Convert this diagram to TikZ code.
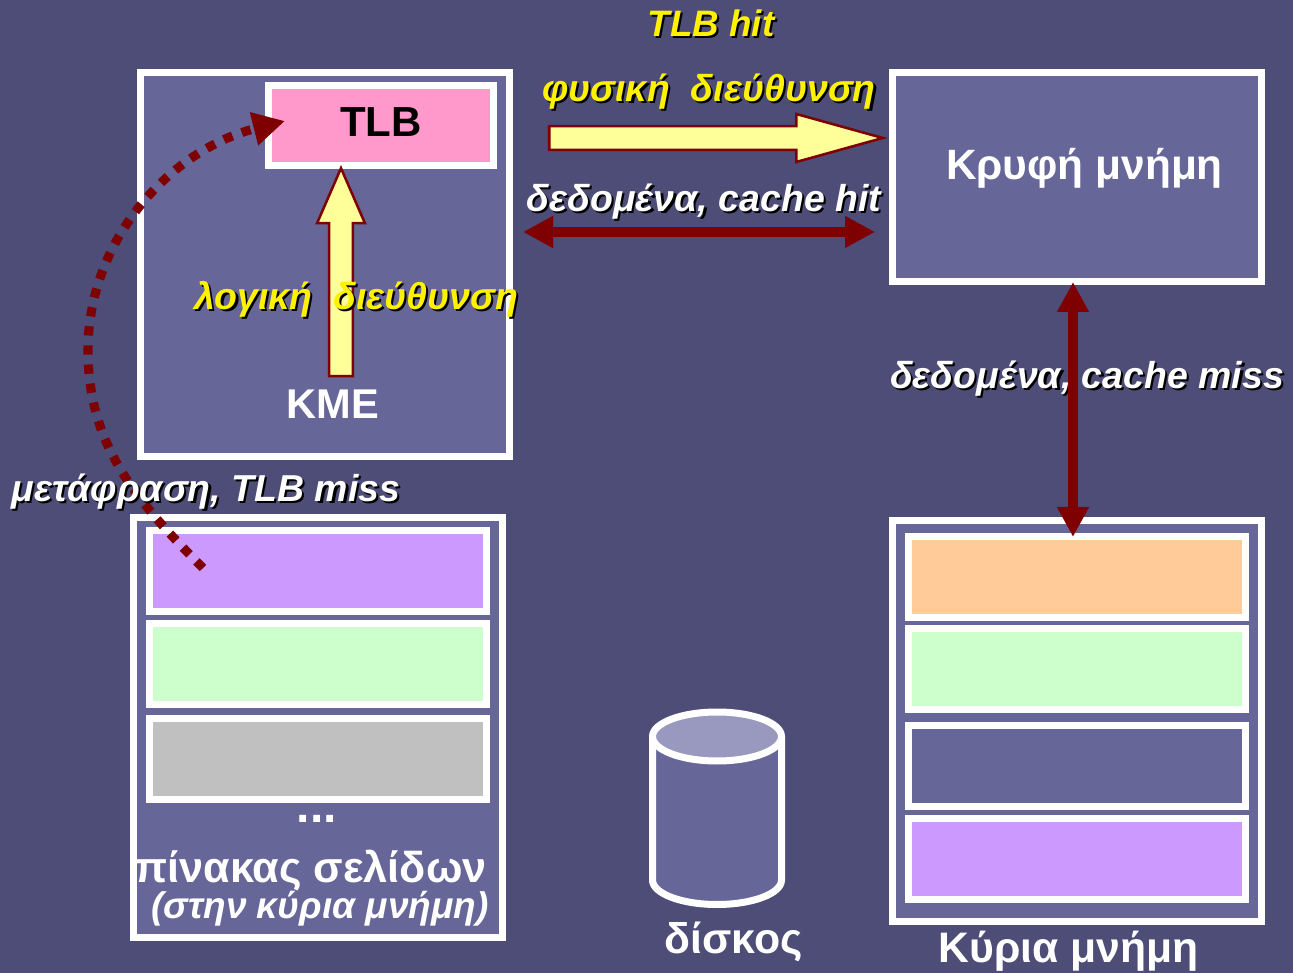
\documentclass[tikz,border=0pt]{standalone}
\usepackage{fontspec}
\setmainfont{Liberation Sans}
\usetikzlibrary{arrows.meta,shapes.arrows}
\definecolor{bgc}{HTML}{4D4D77}
\definecolor{boxc}{HTML}{666699}
\definecolor{darkr}{HTML}{7F0000}
\definecolor{yelc}{HTML}{FFFF99}
\definecolor{topc}{HTML}{9999C0}
\newcommand{\shtext}[1]{\leavevmode\rlap{\kern1.6pt\raisebox{-1.6pt}{\color{black}#1}}#1}
\newcommand{\fsz}[1]{\fontsize{#1pt}{#1pt}\selectfont}
\tikzset{
  x=0.75pt,y=-0.75pt,
  wh/.style 2 args={minimum width=#1*0.75pt,minimum height=#2*0.75pt},
  framebox/.style={draw=white,line width=5.25pt,fill=boxc,inner sep=0pt,outer sep=0pt},
  rowbox/.style={framebox,wh={337}{81}},
  blockarrow/.style={single arrow,draw=darkr,fill=yelc,line width=1.9pt,inner xsep=0pt,inner ysep=8pt,
    minimum width=46*0.75pt,single arrow head extend=12*0.75pt,anchor=tip},
  link/.style={draw=darkr,line width=7.5pt,{Triangle[length=22.5pt,width=22.5pt]}-{Triangle[length=22.5pt,width=22.5pt]}},
  hops/.style={draw=darkr,line width=6.8pt,dash pattern=on 7pt off 7.4pt,-{Triangle[length=24pt,width=24pt]}},
  yellabel/.style={text=yellow,font=\fsz{28.1}\bfseries\itshape,inner sep=0pt},
  whitelabel/.style={text=white,font=\fsz{28.1}\bfseries\itshape,inner sep=0pt},
  boxlabel/.style={text=white,font=\fsz{31.2}\bfseries,inner sep=0pt},
}
\begin{document}
\begin{tikzpicture}
\fill[bgc] (0,0) rectangle (1293,973);
\useasboundingbox (0,0) rectangle (1293,973);
% main boxes
\node[framebox,wh={369}{384}] (cpu) at (325,264.5) {};
\node[framebox,wh={225}{80},fill={rgb,255:red,255;green,153;blue,204}] (tlb) at (381,125.5) {};
\node[framebox,wh={369}{209}] (cache) at (1077,177) {};
\node[framebox,wh={369}{401}] (ram) at (1077,721) {};
\node[framebox,wh={369}{420}] (pt) at (318,727.5) {};
% page table rows
\node[rowbox,fill={rgb,255:red,204;green,153;blue,255}] (pt1) at (318,571) {};
\node[rowbox,fill={rgb,255:red,204;green,255;blue,204}] (pt2) at (318,664) {};
\node[rowbox,fill={rgb,255:red,192;green,192;blue,192}] (pt3) at (318,759) {};
% memory rows
\node[rowbox,fill={rgb,255:red,255;green,204;blue,153}] (m1) at (1077,577) {};
\node[rowbox,fill={rgb,255:red,204;green,255;blue,204}] (m2) at (1077,669) {};
\node[rowbox] (m3) at (1077,766) {};
\node[rowbox,fill={rgb,255:red,204;green,153;blue,255}] (m4) at (1077,859) {};
% disk
\draw[white,line width=5.25pt,fill=boxc] (652.5,736.5) -- (652.5,880) arc[start angle=180,end angle=360,x radius=64.5,y radius=-24.5] -- (781.5,736.5);
\draw[white,line width=5.25pt,fill=topc] (717,736.5) ellipse[x radius=64.5,y radius=24.5];
% texts in boxes
\node[text=black,font=\fsz{31.5}\bfseries,inner sep=0pt] (tlbt) at (381,122) {TLB};
\node[boxlabel] (kme) at (333,404) {KME};
\node[text=white,font=\fsz{31.8}\bfseries,inner sep=0pt] (cachet) at (1084.5,168) {Κρυφή μνήμη};
\node[text=white,font=\fsz{36}\bfseries,inner sep=0pt] (dots) at (317,819) {...};
\node[text=white,font=\fsz{32.4}\bfseries,inner sep=0pt] (ptt) at (310.5,871) {πίνακας σελίδων};
\node[text=white,font=\fsz{27.8}\bfseries\itshape,inner sep=0pt] (ptt2) at (320,909) {(στην κύρια μνήμη)};
\node[text=white,font=\fsz{32.1}\bfseries,inner sep=0pt] (diskt) at (733.5,942) {δίσκος};
\node[text=white,font=\fsz{32}\bfseries,inner sep=0pt] (ramt) at (1068.5,951) {Κύρια μνήμη};
% block arrows
\node[blockarrow,rotate=90,minimum height=208*0.75pt,single arrow tip angle=47] (up) at (341,165) {};
\node[blockarrow,minimum height=333.5*0.75pt,single arrow tip angle=31] (right) at (887.5,138) {};
% translation path
\coordinate (ptstart) at (203,568);
\coordinate (tlbend) at (285,121);
\draw[hops] (ptstart) .. controls (130,495) and (88,440) .. (88,350) .. controls (88,240) and (170,150) .. (tlbend);
% labels
\node[yellabel] (hit) at (711,24) {\shtext{\fsz{27.6}TLB hit}};
\node[yellabel] (phys) at (709,93) {\shtext{φυσική\ \ διεύθυνση}};
\node[whitelabel] (dhit) at (704,203) {\shtext{δεδομένα, cache hit}};
\node[yellabel] (logic) at (356.5,300) {\shtext{λογική\ \ διεύθυνση}};
\node[whitelabel] (trans) at (206,493) {\shtext{μετάφραση, TLB miss}};
\node[whitelabel] (dmiss) at (1087,380) {\shtext{δεδομένα, cache miss}};
% data links
\coordinate (hl) at (523,232);
\coordinate (hr) at (875,232);
\coordinate (vt) at (1073,282);
\coordinate (vb) at (1073,537);
\draw[link] (hl) -- (hr);
\draw[link] (vt) -- (vb);
\end{tikzpicture}
\end{document}
